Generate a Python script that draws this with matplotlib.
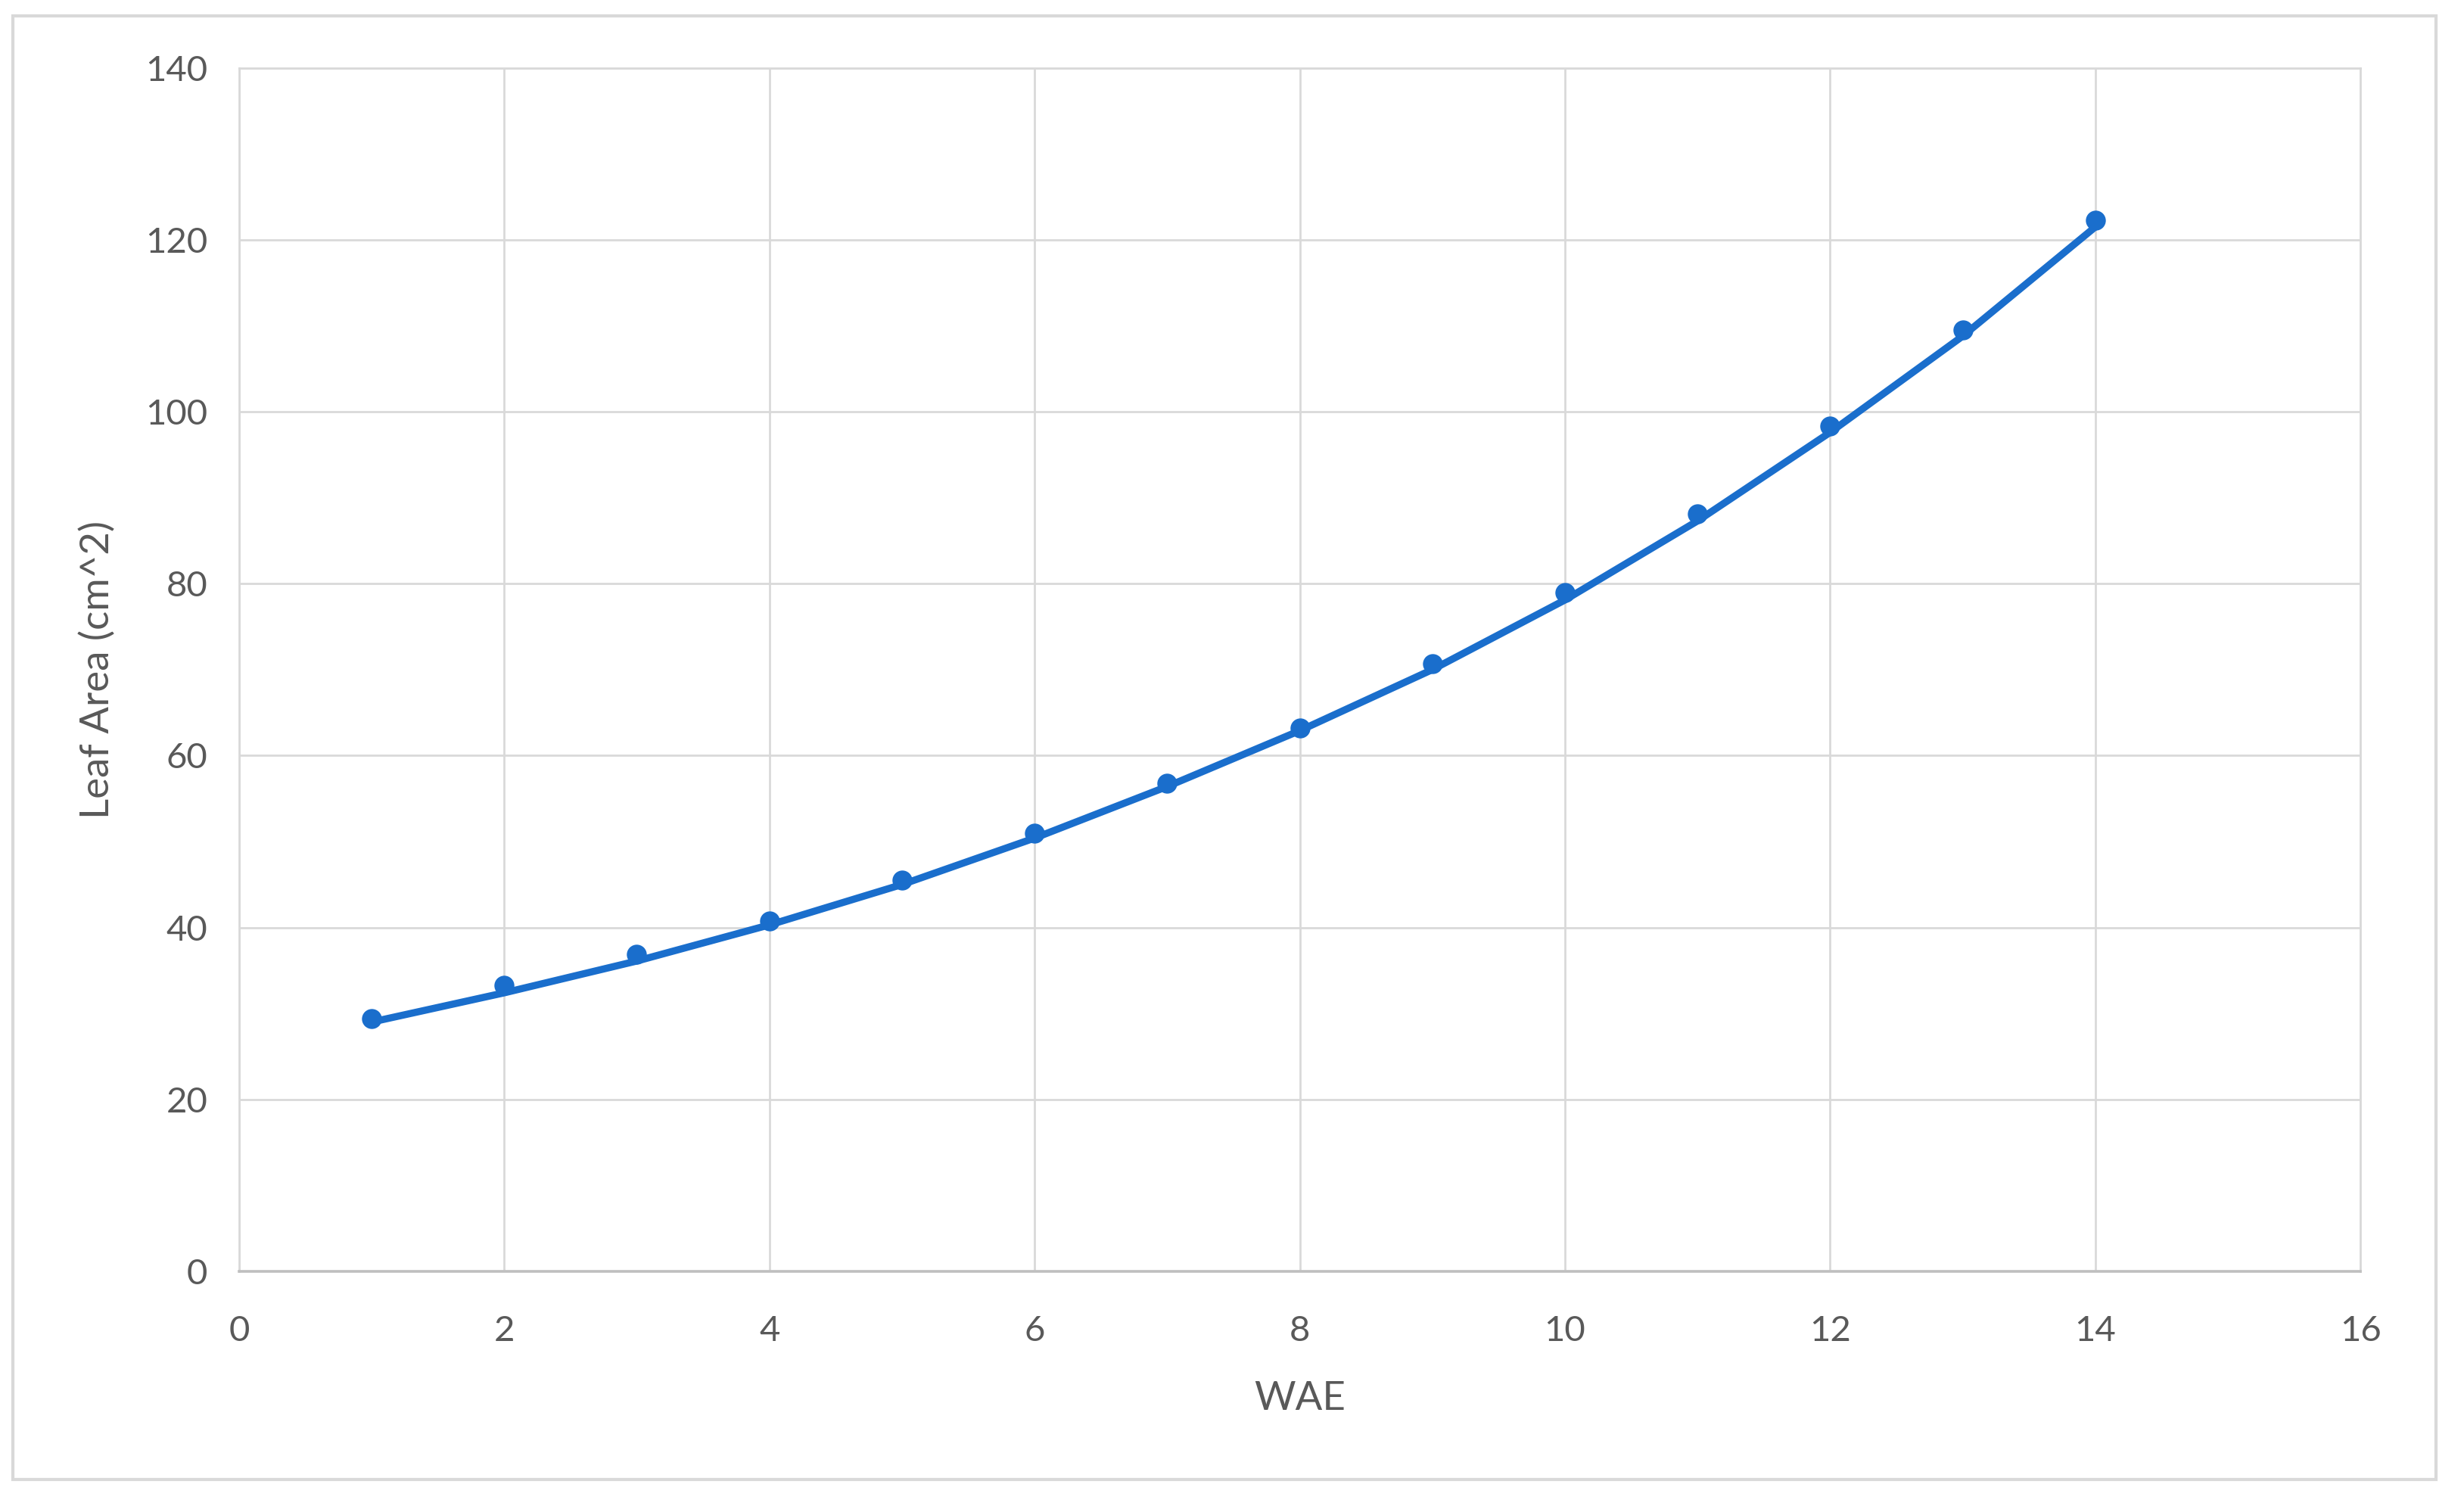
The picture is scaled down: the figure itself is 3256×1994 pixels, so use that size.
"""
Leaf area against WAE, Excel style scatter with trend line
"""
import matplotlib
matplotlib.use("Agg")
import matplotlib.pyplot as plt
from matplotlib.patches import Rectangle

# measured points
wae = [1, 2, 3, 4, 5, 6, 7, 8, 9, 10, 11, 12, 13, 14]
leaf_area = [29.4, 33.3, 36.9, 40.8, 45.5, 51.0, 56.8, 63.2, 70.7, 79.0, 88.1, 98.3, 109.5, 122.3]

# trend line
trend_x = [1, 2, 3, 4, 5, 6, 7, 8, 9, 10, 11, 12, 13, 14]
trend_y = [29.0, 32.4, 36.1, 40.3, 45.0, 50.4, 56.4, 62.9, 70.0, 78.1, 87.3, 97.6, 108.8, 121.5]

x_ticks = [0, 2, 4, 6, 8, 10, 12, 14, 16]
y_ticks = [0, 20, 40, 60, 80, 100, 120, 140]

blue = "#1a6ecc"
grey_text = "#595959"
grid_col = "#d9d9d9"

plt.rcParams['font.family'] = ['Lato', 'DejaVu Sans']

fig = plt.figure(figsize=(16.28, 9.97), dpi=200)
ax = fig.add_axes([0.097, 0.1575, 0.861, 0.7975])

# outer chart frame
fig.patches.append(Rectangle((0.0052, 0.0195), 0.9835, 0.97, transform=fig.transFigure,
                             fill=False, edgecolor=grid_col, linewidth=1.5))

ax.plot(trend_x, trend_y, color=blue, linewidth=3.4, solid_capstyle='round', zorder=3)
ax.plot(wae, leaf_area, 'o', color=blue, markersize=8.5, zorder=4)

ax.set_xlim(0, 16)
ax.set_ylim(0, 140)
ax.set_xticks(x_ticks)
ax.set_yticks(y_ticks)
ax.grid(True, color=grid_col, linewidth=1.0)
ax.set_axisbelow(True)

for side in ['top', 'right', 'left']:
    ax.spines[side].set_color(grid_col)
    ax.spines[side].set_linewidth(1.0)
ax.spines['bottom'].set_color('#bfbfbf')
ax.spines['bottom'].set_linewidth(1.3)

ax.tick_params(length=0, labelsize=17, labelcolor=grey_text)
ax.tick_params(axis='x', pad=21)
ax.tick_params(axis='y', pad=15)

ax.set_xlabel("WAE", fontsize=19, color=grey_text, labelpad=16)
ax.set_ylabel("Leaf Area (cm^2)", fontsize=19, color=grey_text, labelpad=14)

fig.savefig("out.png", dpi=200, facecolor='white')
